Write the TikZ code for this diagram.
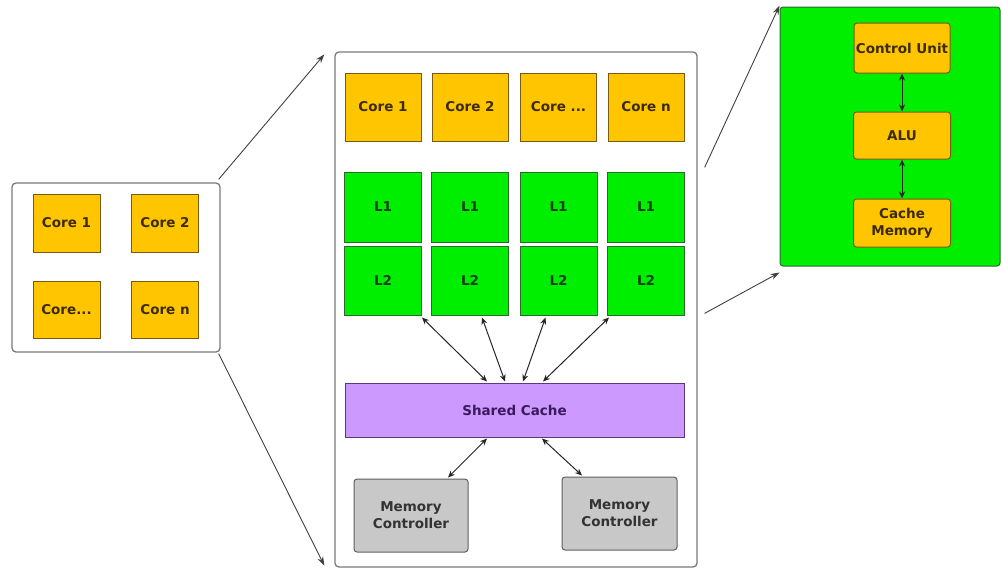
\documentclass[tikz,border=0pt]{standalone}
\usepackage{fontspec}
\setmainfont{DejaVu Sans}
\usetikzlibrary{arrows.meta,calc}
\definecolor{coreyellow}{HTML}{FFC600}
\definecolor{coreedge}{HTML}{7A5A10}
\definecolor{coretext}{HTML}{3D2B00}
\definecolor{cachegreen}{HTML}{00EE00}
\definecolor{cacheedge}{HTML}{2A6A2A}
\definecolor{cachetext}{HTML}{0B3F0B}
\definecolor{sharedpurple}{HTML}{CC99FF}
\definecolor{sharededge}{HTML}{5A3A7A}
\definecolor{sharedtext}{HTML}{3A1A5A}
\definecolor{mcgray}{HTML}{C8C8C8}
\definecolor{mcedge}{HTML}{606060}
\definecolor{frameedge}{HTML}{7A7A7A}

\begin{document}
\begin{tikzpicture}[x=1pt,y=-1pt,
  every node/.style={font=\fontsize{13.5}{17}\selectfont\bfseries,align=center,inner sep=0pt},
  core/.style={draw=coreedge,fill=coreyellow,text=coretext,line width=1pt},
  cache/.style={draw=cacheedge,fill=cachegreen,text=cachetext,line width=1pt},
  shared/.style={draw=sharededge,fill=sharedpurple,text=sharedtext,line width=1pt},
  memctl/.style={draw=mcedge,fill=mcgray,text=black!80,rounded corners=3pt,line width=1pt},
  frame/.style={draw=frameedge,fill=white,rounded corners=4pt,line width=1.3pt},
  link/.style={draw=black!75,line width=0.9pt,-{Stealth[length=9pt,width=6pt]}},
  dlink/.style={draw=black!85,line width=1pt,{Stealth[length=7pt,width=6pt]}-{Stealth[length=7pt,width=6pt]}}]
\useasboundingbox (0,0) rectangle (1003,568);

\node[frame,minimum width=208,minimum height=169] (lframe) at (116,267.5) {};
\node[core,minimum width=67,minimum height=58] (lcore1) at (66.5,223) {Core 1};
\node[core,minimum width=67,minimum height=58] (lcore2) at (165,223) {Core 2};
\node[core,minimum width=67,minimum height=57] (lcore3) at (66.5,310) {Core...};
\node[core,minimum width=67,minimum height=57] (lcoren) at (165,310) {Core n};

\node[frame,minimum width=362,minimum height=515] (mframe) at (516,309.5) {};
\node[core,minimum width=76,minimum height=68] (core1) at (383,107) {Core 1};
\node[core,minimum width=76,minimum height=68] (core2) at (470,107) {Core 2};
\node[core,minimum width=76,minimum height=68] (core3) at (558.5,107) {Core ...};
\node[core,minimum width=76,minimum height=68] (coren) at (646,107) {Core n};
\node[cache,minimum width=77,minimum height=70] (l1a) at (383,207) {L1};
\node[cache,minimum width=77,minimum height=70] (l1b) at (470,207) {L1};
\node[cache,minimum width=77,minimum height=70] (l1c) at (558.5,207) {L1};
\node[cache,minimum width=77,minimum height=70] (l1d) at (646,207) {L1};
\node[cache,minimum width=77,minimum height=69] (l2a) at (383,280.5) {L2};
\node[cache,minimum width=77,minimum height=69] (l2b) at (470,280.5) {L2};
\node[cache,minimum width=77,minimum height=69] (l2c) at (558.5,280.5) {L2};
\node[cache,minimum width=77,minimum height=69] (l2d) at (646,280.5) {L2};
\node[shared,minimum width=339,minimum height=54] (shared) at (514.5,410) {Shared Cache};
\node[memctl,minimum width=114,minimum height=73] (mc1) at (411,515.5) {Memory\\Controller};
\node[memctl,minimum width=115,minimum height=73] (mc2) at (619.5,513.5) {Memory\\Controller};

\draw[dlink] ($(l2a.south east)+(0,2)$) -- ($(shared.north)+(-27.5,-1)$);
\draw[dlink] ($(l2b.south)+(12,2)$) -- ($(shared.north)+(-9.5,-1)$);
\draw[dlink] ($(l2c.south)+(-13,2)$) -- ($(shared.north)+(8.5,-1)$);
\draw[dlink] ($(l2d.south west)+(2,2)$) -- ($(shared.north)+(28.5,-1)$);
\draw[dlink] ($(shared.south)+(-27.5,1)$) -- ($(mc1.north)+(37,-1)$);
\draw[dlink] ($(shared.south)+(27.5,1)$) -- ($(mc2.north)+(-37.5,-1)$);

\node[draw=cacheedge,fill=cachegreen,rounded corners=3pt,line width=1pt,minimum width=220,minimum height=259] (rframe) at (890,136.5) {};
\node[core,rounded corners=3pt,minimum width=96,minimum height=50] (cu) at (902,48) {Control Unit};
\node[core,rounded corners=3pt,minimum width=97,minimum height=47] (alu) at (902,135.5) {ALU};
\node[core,rounded corners=3pt,minimum width=97,minimum height=48] (cmem) at (902,223) {Cache\\Memory};
\draw[dlink] (cu.south) -- (alu.north);
\draw[dlink] (alu.south) -- (cmem.north);

\draw[link] ($(lframe.north east)+(-2,-3)$) -- ($(mframe.north west)+(-10,3)$);
\draw[link] ($(lframe.south east)+(-2,1)$) -- ($(mframe.south west)+(-10,-2)$);
\draw[link] ($(mframe.north east)+(7,116)$) -- ($(rframe.north west)+(0,-1)$);
\draw[link] ($(mframe.north east)+(7,262)$) -- ($(rframe.south west)+(0,6)$);
\end{tikzpicture}
\end{document}
